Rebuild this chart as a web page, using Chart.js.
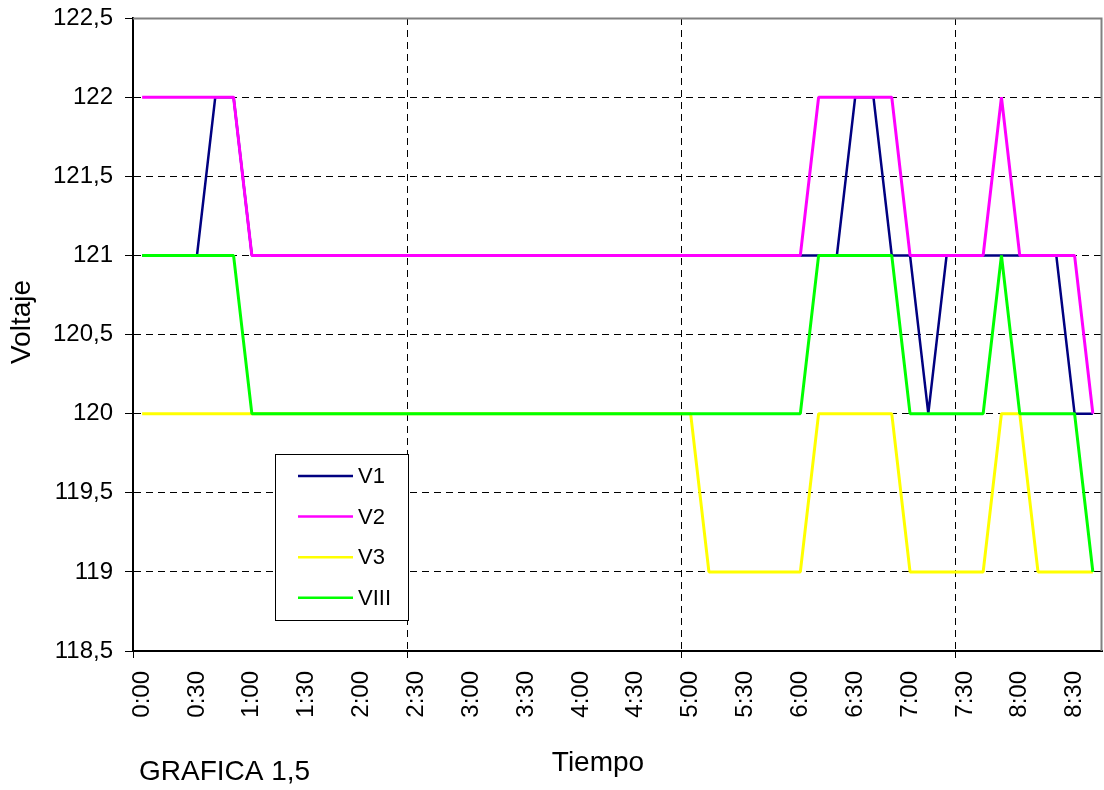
<!DOCTYPE html>
<html>
<head>
<meta charset="utf-8">
<script src="https://cdn.jsdelivr.net/npm/chart.js@4.4.1/dist/chart.umd.min.js"></script>
<style>
html,body{margin:0;padding:0;background:#fff;}
#wrap{width:1104px;height:790px;position:relative;}
canvas{display:block;}
</style>
</head>
<body>
<div id="wrap"><canvas id="c" width="1104" height="790"></canvas></div>
<script>
// ---- data ----
const times = [
  "0:00","0:10","0:20","0:30","0:40","0:50",
  "1:00","1:10","1:20","1:30","1:40","1:50",
  "2:00","2:10","2:20","2:30","2:40","2:50",
  "3:00","3:10","3:20","3:30","3:40","3:50",
  "4:00","4:10","4:20","4:30","4:40","4:50",
  "5:00","5:10","5:20","5:30","5:40","5:50",
  "6:00","6:10","6:20","6:30","6:40","6:50",
  "7:00","7:10","7:20","7:30","7:40","7:50",
  "8:00","8:10","8:20","8:30","8:40"
];
const v1 = [
  121,121,121,121,122,122,121,121,121,121,
  121,121,121,121,121,121,121,121,121,121,
  121,121,121,121,121,121,121,121,121,121,
  121,121,121,121,121,121,121,121,121,122,
  122,121,121,120,121,121,121,121,121,121,
  121,120,120
];
const v2 = [
  122,122,122,122,122,122,121,121,121,121,
  121,121,121,121,121,121,121,121,121,121,
  121,121,121,121,121,121,121,121,121,121,
  121,121,121,121,121,121,121,122,122,122,
  122,122,121,121,121,121,121,122,121,121,
  121,121,120
];
const v3 = [
  120,120,120,120,120,120,120,120,120,120,
  120,120,120,120,120,120,120,120,120,120,
  120,120,120,120,120,120,120,120,120,120,
  120,119,119,119,119,119,119,120,120,120,
  120,120,119,119,119,119,119,120,120,119,
  119,119,119
];
const viii = [
  121,121,121,121,121,121,120,120,120,120,
  120,120,120,120,120,120,120,120,120,120,
  120,120,120,120,120,120,120,120,120,120,
  120,120,120,120,120,120,120,121,121,121,
  121,121,120,120,120,120,120,121,120,120,
  120,120,119
];
const seriesNames = ["V1","V2","V3","VIII"];
const seriesColors = ["#000080","#FF00FF","#FFFF00","#00FF00"];
const yMin = 118.5, yMax = 122.5, yStep = 0.5;
const labelEvery = 3;      // a time label every 30 minutes
const gridEvery = 15;      // vertical gridline every 15 categories
const chartTitle = "GRAFICA 1,5";
const xTitle = "Tiempo";
const yTitle = "Voltaje";

const FONT = "'Liberation Sans', Arial, Helvetica, sans-serif";

const decor = {
  id: 'decor',
  afterDatasetsDraw(chart) {
    const ctx = chart.ctx, a = chart.chartArea;
    ctx.save();
    // grey plot-area frame (top and right)
    ctx.strokeStyle = '#808080';
    ctx.lineWidth = 2;
    ctx.beginPath();
    ctx.moveTo(a.left, a.top + 0.5);
    ctx.lineTo(a.right - 0.5, a.top + 0.5);
    ctx.lineTo(a.right - 0.5, a.bottom);
    ctx.stroke();

    // legend box
    const bx = 275.5, by = 454.5, bw = 133, bh = 166;
    ctx.fillStyle = '#fff';
    ctx.fillRect(bx, by, bw, bh);
    ctx.strokeStyle = '#000';
    ctx.lineWidth = 1;
    ctx.strokeRect(bx, by, bw, bh);
    ctx.font = "22px " + FONT;
    ctx.textBaseline = 'middle';
    ctx.textAlign = 'left';
    chart.data.datasets.forEach((ds, k) => {
      const y = 476 + k * 40.6;
      ctx.strokeStyle = ds.borderColor;
      ctx.lineWidth = 2.5;
      ctx.beginPath();
      ctx.moveTo(298, y);
      ctx.lineTo(353, y);
      ctx.stroke();
      ctx.fillStyle = '#000';
      ctx.fillText(ds.label, 358, y + 1);
    });
    ctx.restore();
  },
  afterDraw(chart) {
    const ctx = chart.ctx;
    ctx.save();
    ctx.fillStyle = '#000';
    ctx.textBaseline = 'middle';
    ctx.font = "28px " + FONT;
    ctx.textAlign = 'center';
    ctx.fillText(xTitle, 598, 763);
    ctx.font = "28px " + FONT;
    ctx.textAlign = 'left';
    ctx.fillText(chartTitle, 139, 772);
    ctx.font = "28px " + FONT;
    ctx.translate(22, 322);
    ctx.rotate(-Math.PI / 2);
    ctx.textAlign = 'center';
    ctx.fillText(yTitle, 0, 0);
    ctx.restore();
  }
};

const seriesData = [v1, v2, v3, viii];
const datasets = seriesData.map((d, k) => ({
  label: seriesNames[k],
  data: d,
  borderColor: seriesColors[k],
  backgroundColor: seriesColors[k],
  borderWidth: k === 0 ? 2.5 : 3,
  borderJoinStyle: 'bevel',
  pointRadius: 0,
  pointHoverRadius: 0,
  tension: 0,
  fill: false,
  order: 4 - k
}));

new Chart(document.getElementById('c'), {
  type: 'line',
  data: { labels: times, datasets },
  options: {
    responsive: false,
    animation: false,
    events: [],
    layout: { padding: { top: 18, right: 2, left: 0, bottom: 0 } },
    plugins: { legend: { display: false }, tooltip: { enabled: false }, title: { display: false } },
    scales: {
      x: {
        type: 'category',
        offset: true,
        ticks: {
          autoSkip: false,
          minRotation: 90,
          maxRotation: 90,
          color: '#000',
          padding: 13,
          font: { family: FONT, size: 24 },
          callback: function (v, i) { return i % labelEvery === 0 ? times[i] : ''; }
        },
        grid: {
          offset: true,
          lineWidth: 1,
          color: c => (c.index > 0 && c.index % gridEvery === 0 && c.index < times.length) ? '#000' : 'transparent',
          tickColor: c => (c.index % gridEvery === 0 && c.index < times.length) ? '#000' : 'transparent',
          tickLength: 7,
          tickWidth: 1
        },
        border: { display: true, color: '#000', width: 2, dash: [7, 5] },
        afterFit: s => { s.height = 139; s.paddingLeft = 0; s.paddingRight = 0; }
      },
      y: {
        min: yMin,
        max: yMax,
        ticks: {
          stepSize: yStep,
          color: '#000',
          padding: 12,
          font: { family: FONT, size: 24 },
          callback: v => String(v).replace('.', ',')
        },
        grid: {
          lineWidth: 1,
          color: c => (c.tick && (c.tick.value === yMin || c.tick.value === yMax)) ? 'transparent' : '#000',
          tickColor: '#000',
          tickLength: 8,
          tickWidth: 1
        },
        border: { display: true, color: '#000', width: 2, dash: [7, 5] },
        afterFit: s => { s.width = 133; s.paddingTop = 0; s.paddingBottom = 0; }
      }
    }
  },
  plugins: [decor]
});
</script>
</body>
</html>
